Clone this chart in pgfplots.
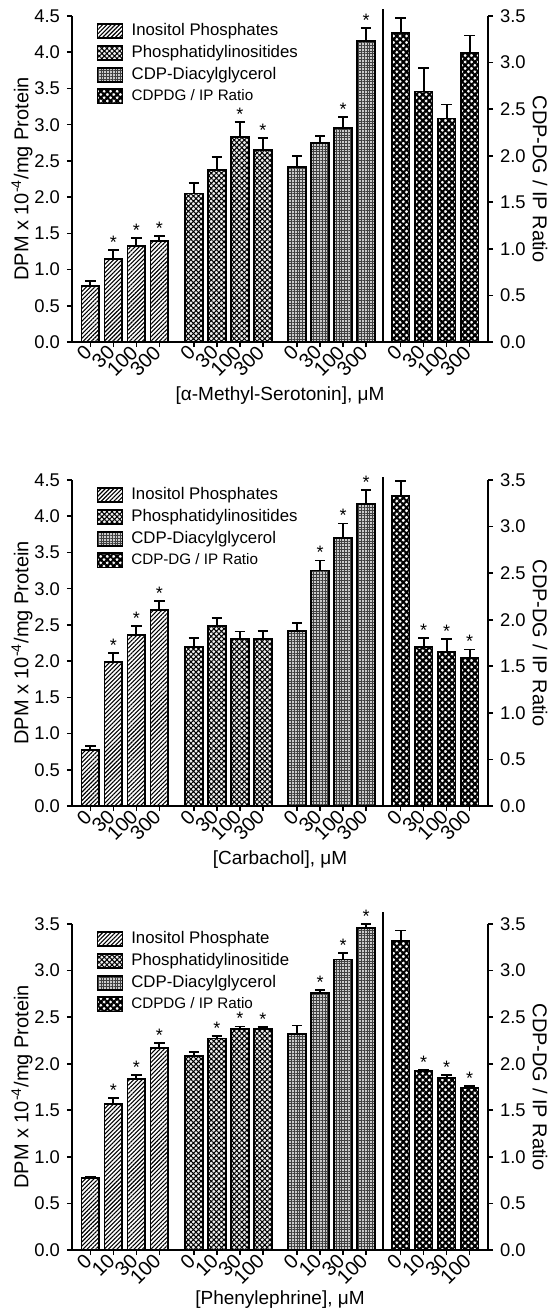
\documentclass[border=0pt]{standalone}
\usepackage{pgfplots}
\pgfplotsset{compat=1.18}
\usepackage{fontspec}
\setmainfont{Liberation Sans}
\usetikzlibrary{patterns.meta}

\newcommand{\fs}[1]{\fontsize{#1}{#1}\selectfont}

\pgfplotsset{
  panel/.style={scale only axis, width=208pt, height=163pt,
    xmin=-0.8, xmax=17.3, ymin=0, clip=false,
    tick align=outside, major tick length=2.5pt,
    axis line style={line width=0.8pt,-},
    every tick/.style={black, line width=0.8pt},
    tick label style={font=\fs{9.2}},
    yticklabel style={/pgf/number format/.cd, fixed, fixed zerofill, precision=1, assume math mode=true},
    label style={font=\fs{11}}},
  leftax/.style={panel, axis y line*=left, axis x line*=bottom,
    xtick={0,1,2,3,4.5,5.5,6.5,7.5,9,10,11,12,13.5,14.5,15.5,16.5},
    xticklabel style={rotate=45, anchor=east, inner sep=1.4pt, font=\fs{10}},
    every axis y label/.style={at={(axis description cs:-0.12,0.5)}, rotate=90, anchor=center},
    every axis x label/.style={at={(axis description cs:0.5,-0.165)}, anchor=center, font=\fs{9.5}},
    ylabel={DPM x 10\textsuperscript{-4}/mg Protein},
    legend cell align=left,
    legend style={at={(axis description cs:0.058,0.985)}, anchor=north west,
      draw=none, fill=none, font=\fs{8.4}, row sep=1.4pt, inner sep=0pt,
      nodes={inner sep=1pt}}},
  rightax/.style={panel, axis y line*=right, axis x line=none, ymax=3.5,
    ytick={0,0.5,1,1.5,2,2.5,3,3.5},
    every axis y label/.style={at={(axis description cs:1.125,0.5)}, rotate=-90, anchor=center},
    ylabel={CDP-DG / IP Ratio}},
  patch/.style={legend image code/.code={\draw[##1] (0pt,-3.6pt) rectangle (12.5pt,3.6pt); \path (15.5pt,0pt);}},
  barbase/.style={ybar, bar width=0.77, bar shift=0pt, draw=black, line width=0.9pt, patch},
  ip/.style={barbase, pattern={Lines[angle=45,distance=1.5pt,line width=0.55pt]}},
  pi/.style={barbase, fill=gray!12, postaction={pattern={Hatch[angle=45,distance=1.8pt,line width=0.5pt]}}},
  cdp/.style={barbase, fill=gray!40, postaction={pattern={Hatch[angle=0,distance=1.4pt,line width=0.3pt]}, pattern color=black!75}},
  ratio/.style={barbase, pattern={Hatch[angle=45,distance=2.3pt,line width=1.05pt]}},
  eb/.style={error bars/.cd, y dir=plus, y explicit,
    error bar style={line width=0.9pt, black, solid},
    error mark options={rotate=90, mark size=2.6pt, line width=0.9pt, black}},
  stars/.style={only marks, mark=none, forget plot, nodes near coords={*},
    nodes near coords style={anchor=south, font=\fs{9}, inner sep=0.6pt}}
}

\begin{document}
\begin{tikzpicture}

% ---------- panel 1: alpha-methyl-serotonin
\begin{axis}[leftax, at={(0,0)}, ymax=4.5, ytick={0,0.5,...,4.5},
  xticklabels={0,30,100,300,0,30,100,300,0,30,100,300,0,30,100,300},
  xlabel={[α-Methyl-Serotonin], μM}]
\addplot[ip, eb] coordinates {(0,0.77) +- (0,0.07) (1,1.15) +- (0,0.12) (2,1.33) +- (0,0.11) (3,1.39) +- (0,0.07)};
\addlegendentry{Inositol Phosphates}
\addplot[pi, eb] coordinates {(4.5,2.05) +- (0,0.14) (5.5,2.37) +- (0,0.18) (6.5,2.83) +- (0,0.21) (7.5,2.65) +- (0,0.17)};
\addlegendentry{Phosphatidylinositides}
\addplot[cdp, eb] coordinates {(9,2.42) +- (0,0.15) (10,2.75) +- (0,0.09) (11,2.95) +- (0,0.16) (12,4.15) +- (0,0.18)};
\addlegendentry{CDP-Diacylglycerol}
\addlegendimage{ratio}
\addlegendentry{\fs{7.6}CDPDG / IP Ratio}
\addplot[stars] coordinates {(1,1.27) (2,1.44) (3,1.46) (6.5,3.04) (7.5,2.82) (11,3.11) (12,4.33)};
\draw[line width=0.8pt] (axis cs:12.72,0) -- (axis cs:12.72,4.6);
\end{axis}
\begin{axis}[rightax, at={(0,0)}]
\addplot[ratio, eb] coordinates {(13.5,3.32) +- (0,0.16) (14.5,2.69) +- (0,0.25) (15.5,2.40) +- (0,0.15) (16.5,3.10) +- (0,0.19)};
\end{axis}

% ---------- panel 2: carbachol
\begin{axis}[leftax, at={(0,-232pt)}, ymax=4.5, ytick={0,0.5,...,4.5},
  xticklabels={0,30,100,300,0,30,100,300,0,30,100,300,0,30,100,300},
  xlabel={[Carbachol], μM}]
\addplot[ip, eb] coordinates {(0,0.77) +- (0,0.06) (1,1.99) +- (0,0.12) (2,2.36) +- (0,0.12) (3,2.71) +- (0,0.12)};
\addlegendentry{Inositol Phosphates}
\addplot[pi, eb] coordinates {(4.5,2.20) +- (0,0.12) (5.5,2.49) +- (0,0.10) (6.5,2.31) +- (0,0.10) (7.5,2.30) +- (0,0.12)};
\addlegendentry{Phosphatidylinositides}
\addplot[cdp, eb] coordinates {(9,2.42) +- (0,0.11) (10,3.25) +- (0,0.14) (11,3.70) +- (0,0.20) (12,4.17) +- (0,0.19)};
\addlegendentry{CDP-Diacylglycerol}
\addlegendimage{ratio}
\addlegendentry{\fs{7.6}CDP-DG / IP Ratio}
\addplot[stars] coordinates {(1,2.11) (2,2.48) (3,2.83) (10,3.39) (11,3.90) (12,4.36)};
\draw[line width=0.8pt] (axis cs:12.72,0) -- (axis cs:12.72,4.54);
\end{axis}
\begin{axis}[rightax, at={(0,-232pt)}]
\addplot[ratio, eb] coordinates {(13.5,3.33) +- (0,0.16) (14.5,1.71) +- (0,0.09) (15.5,1.65) +- (0,0.14) (16.5,1.59) +- (0,0.09)};
\addplot[stars] coordinates {(14.5,1.80) (15.5,1.79) (16.5,1.68)};
\end{axis}

% ---------- panel 3: phenylephrine
\begin{axis}[leftax, at={(0,-454pt)}, ymax=3.5, ytick={0,0.5,...,3.5},
  xticklabels={0,10,30,100,0,10,30,100,0,10,30,100,0,10,30,100},
  xlabel={[Phenylephrine], μM},
  every axis x label/.append style={at={(axis description cs:0.5,-0.152)}}]
\addplot[ip, eb] coordinates {(0,0.77) +- (0,0.01) (1,1.57) +- (0,0.06) (2,1.84) +- (0,0.04) (3,2.17) +- (0,0.05)};
\addlegendentry{Inositol Phosphate}
\addplot[pi, eb] coordinates {(4.5,2.08) +- (0,0.05) (5.5,2.27) +- (0,0.03) (6.5,2.37) +- (0,0.03) (7.5,2.37) +- (0,0.02)};
\addlegendentry{Phosphatidylinositide}
\addplot[cdp, eb] coordinates {(9,2.32) +- (0,0.09) (10,2.76) +- (0,0.03) (11,3.12) +- (0,0.07) (12,3.46) +- (0,0.04)};
\addlegendentry{CDP-Diacylglycerol}
\addlegendimage{ratio}
\addlegendentry{\fs{7.6}CDPDG / IP Ratio}
\addplot[stars] coordinates {(1,1.63) (2,1.88) (3,2.22) (5.5,2.30) (6.5,2.40) (7.5,2.39) (10,2.79) (11,3.19) (12,3.50)};
\draw[line width=0.8pt] (axis cs:12.72,0) -- (axis cs:12.72,3.63);
\end{axis}
\begin{axis}[rightax, at={(0,-454pt)}]
\addplot[ratio, eb] coordinates {(13.5,3.32) +- (0,0.11) (14.5,1.92) +- (0,0.01) (15.5,1.85) +- (0,0.03) (16.5,1.74) +- (0,0.02)};
\addplot[stars] coordinates {(14.5,1.93) (15.5,1.88) (16.5,1.76)};
\end{axis}

\pgfresetboundingbox
\path (-36pt,171pt) rectangle (239.5pt,-484.5pt);
\end{tikzpicture}
\end{document}
